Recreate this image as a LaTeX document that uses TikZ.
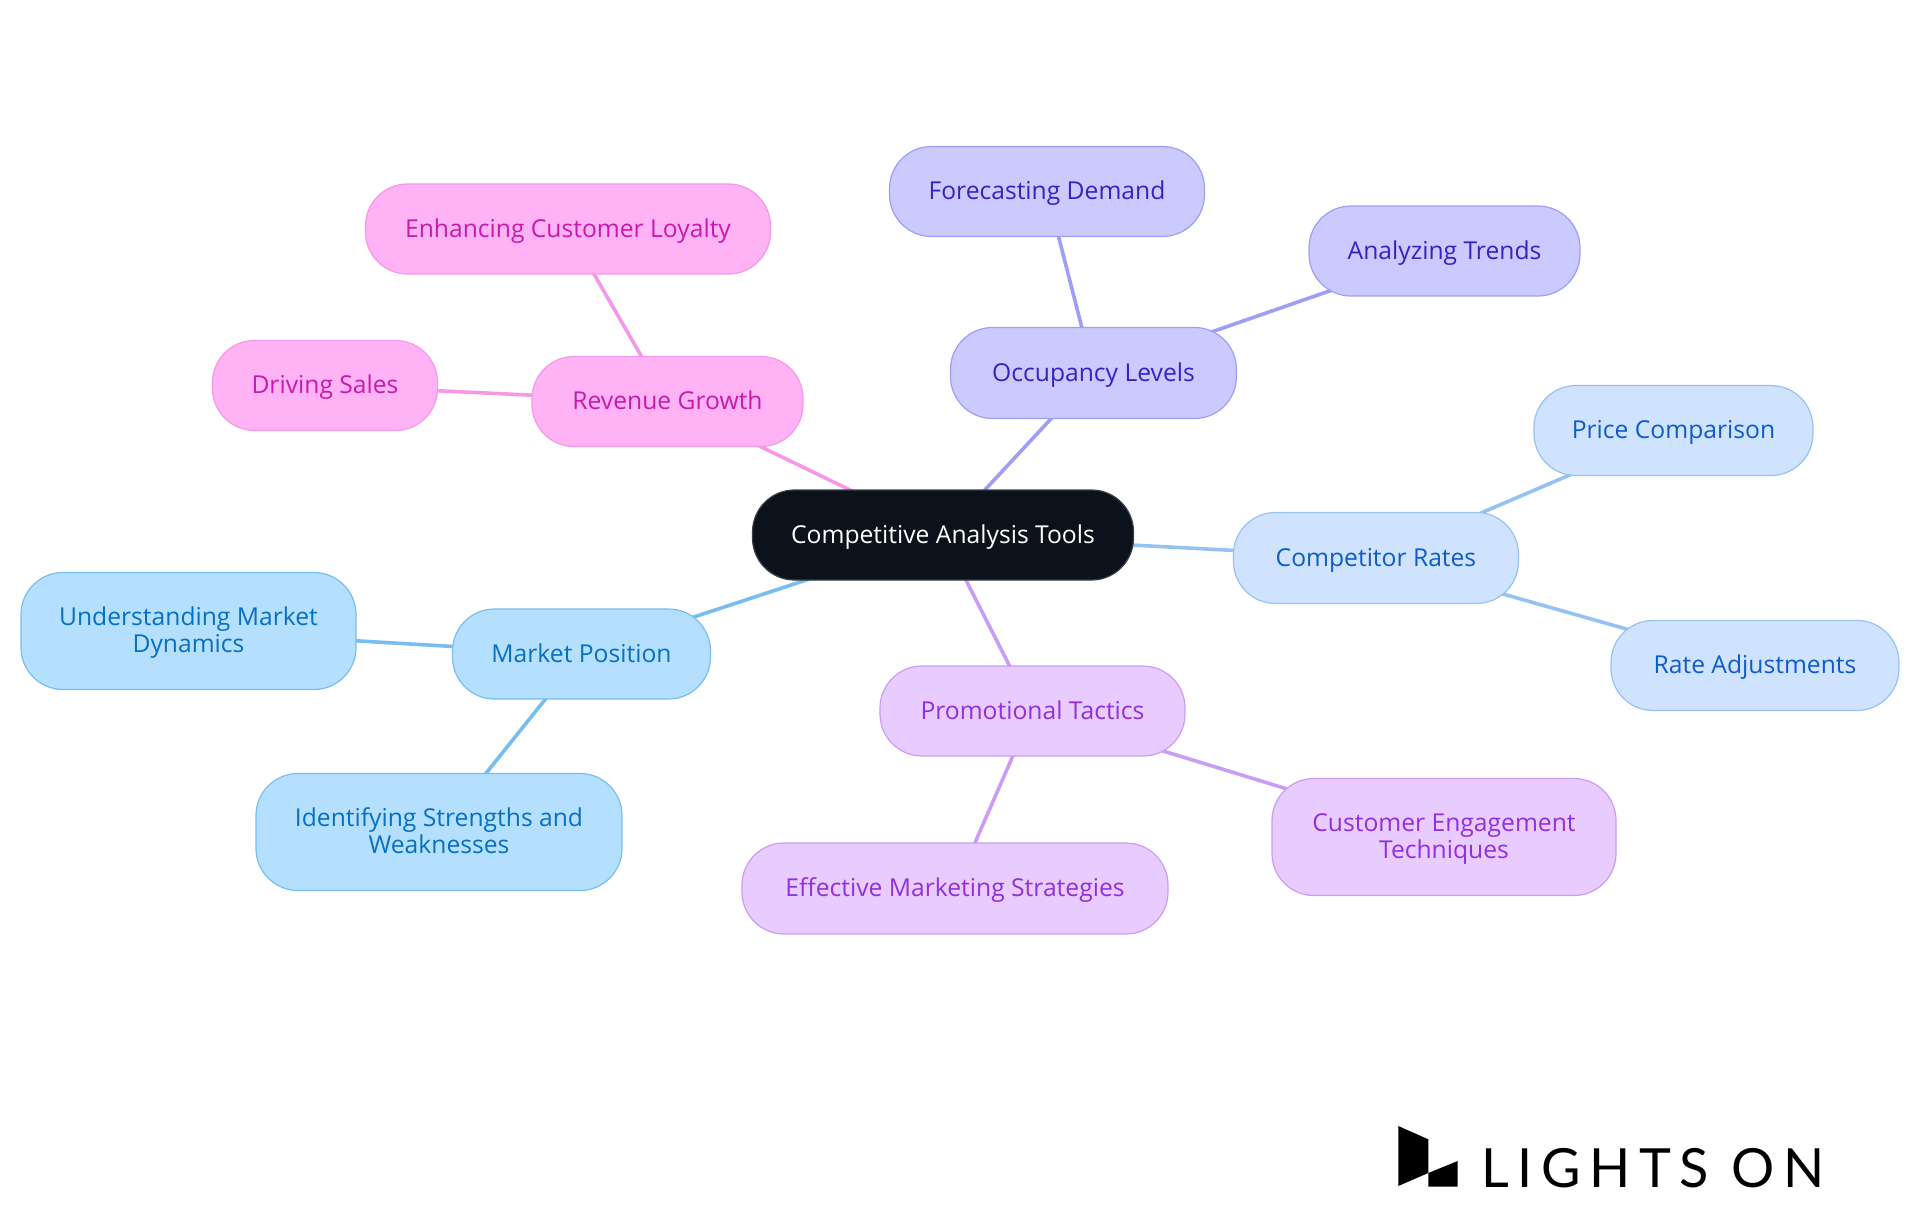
\documentclass[tikz,border=0pt]{standalone}
\usepackage{fontspec}
\setmainfont{Open Sans}
\newfontfamily\logofont[LetterSpace=16]{Lato}
\usetikzlibrary{backgrounds}
\definecolor{rootfill}{HTML}{0C121B}
\definecolor{rootline}{HTML}{3A3F46}
\definecolor{pinkfill}{HTML}{FFB3F5}\definecolor{pinkline}{HTML}{F598E8}\definecolor{pinktext}{HTML}{C71AAE}
\definecolor{indfill}{HTML}{CACAFF}\definecolor{indline}{HTML}{9E9EF5}\definecolor{indtext}{HTML}{3423C4}
\definecolor{bluefill}{HTML}{CFE3FF}\definecolor{blueline}{HTML}{96C2F2}\definecolor{bluetext}{HTML}{0F5CC9}
\definecolor{purfill}{HTML}{E8CBFF}\definecolor{purline}{HTML}{CB9CF5}\definecolor{purtext}{HTML}{9130DC}
\definecolor{skyfill}{HTML}{B5DFFF}\definecolor{skyline}{HTML}{78BDF0}\definecolor{skytext}{HTML}{0670C2}
\tikzset{
  mm/.style={draw,rounded corners=42pt,line width=1.2pt,align=center,font=\fontsize{24.65}{27}\selectfont,inner sep=0pt,text height=22pt,text depth=6pt},
  twoline/.style={text height=49pt,text depth=6pt},
  rootbox/.style={mm,fill=rootfill,draw=rootline,text=white},
  pinkbox/.style={mm,fill=pinkfill,draw=pinkline,text=pinktext},
  indbox/.style={mm,fill=indfill,draw=indline,text=indtext},
  bluebox/.style={mm,fill=bluefill,draw=blueline,text=bluetext},
  purbox/.style={mm,fill=purfill,draw=purline,text=purtext},
  skybox/.style={mm,fill=skyfill,draw=skyline,text=skytext},
  link/.style={line width=3.6pt},
  wh/.style 2 args={minimum width=#1,minimum height=#2}
}
\begin{document}
\begin{tikzpicture}[x=1pt,y=-1pt]
\useasboundingbox (0,0) rectangle (1920,1215);
\node[rootbox,wh={381pt}{90pt}] (root) at (943,535) {Competitive Analysis Tools};
\node[indbox,wh={286pt}{91pt}] (occ) at (1093.5,373) {Occupancy Levels};
\node[indbox,wh={315pt}{90pt}] (fore) at (1047,191.5) {Forecasting Demand};
\node[indbox,wh={271pt}{90pt}] (trend) at (1444.5,251) {Analyzing Trends};
\node[bluebox,wh={285pt}{91pt}] (comp) at (1376,558) {Competitor Rates};
\node[bluebox,wh={279pt}{90pt}] (price) at (1673.5,430.5) {Price Comparison};
\node[bluebox,wh={288pt}{90pt}] (rate) at (1755,665.5) {Rate Adjustments};
\node[purbox,wh={305pt}{90pt}] (promo) at (1032.5,711) {Promotional Tactics};
\node[purbox,twoline,wh={344pt}{117pt}] (cust) at (1444,837) {Customer Engagement\\Techniques};
\node[purbox,wh={426pt}{91pt}] (eff) at (955,888.5) {Effective Marketing Strategies};
\node[skybox,wh={258pt}{90pt}] (mkt) at (581.5,654) {Market Position};
\node[skybox,twoline,wh={335pt}{117pt}] (und) at (188.5,631) {Understanding Market\\Dynamics};
\node[skybox,twoline,wh={366pt}{117pt}] (ident) at (439,832) {Identifying Strengths and\\Weaknesses};
\node[pinkbox,wh={271pt}{90pt}] (rev) at (667.5,401.5) {Revenue Growth};
\node[pinkbox,wh={405pt}{90pt}] (enh) at (568,229) {Enhancing Customer Loyalty};
\node[pinkbox,wh={225pt}{90pt}] (drv) at (325,385.5) {Driving Sales};
\begin{scope}[on background layer]
\draw[link,indline] (root.center)--(occ.center);
\draw[link,indline] (occ.center)--(fore.center);
\draw[link,indline] (occ.center)--(trend.center);
\draw[link,blueline] (root.center)--(comp.center);
\draw[link,blueline] (comp.center)--(price.center);
\draw[link,blueline] (comp.center)--(rate.center);
\draw[link,purline] (root.center)--(promo.center);
\draw[link,purline] (promo.center)--(cust.center);
\draw[link,purline] (promo.center)--(eff.center);
\draw[link,skyline] (root.center)--(mkt.center);
\draw[link,skyline] (mkt.center)--(und.center);
\draw[link,skyline] (mkt.center)--(ident.center);
\draw[link,pinkline] (root.center)--(rev.center);
\draw[link,pinkline] (rev.center)--(enh.center);
\draw[link,pinkline] (rev.center)--(drv.center);
\end{scope}
\fill[black] (1398.3,1126)--(1428.3,1139.3)--(1428.3,1173)--(1398.3,1186)--cycle;
\fill[black] (1428.3,1173)--(1457.7,1161)--(1457.7,1186.7)--(1428.3,1186.7)--cycle;
\node[anchor=base west,inner sep=0pt,text=black,font=\logofont\fontsize{54}{54}\selectfont] (logo) at (1481,1187) {LIGHTS ON};
\end{tikzpicture}
\end{document}
